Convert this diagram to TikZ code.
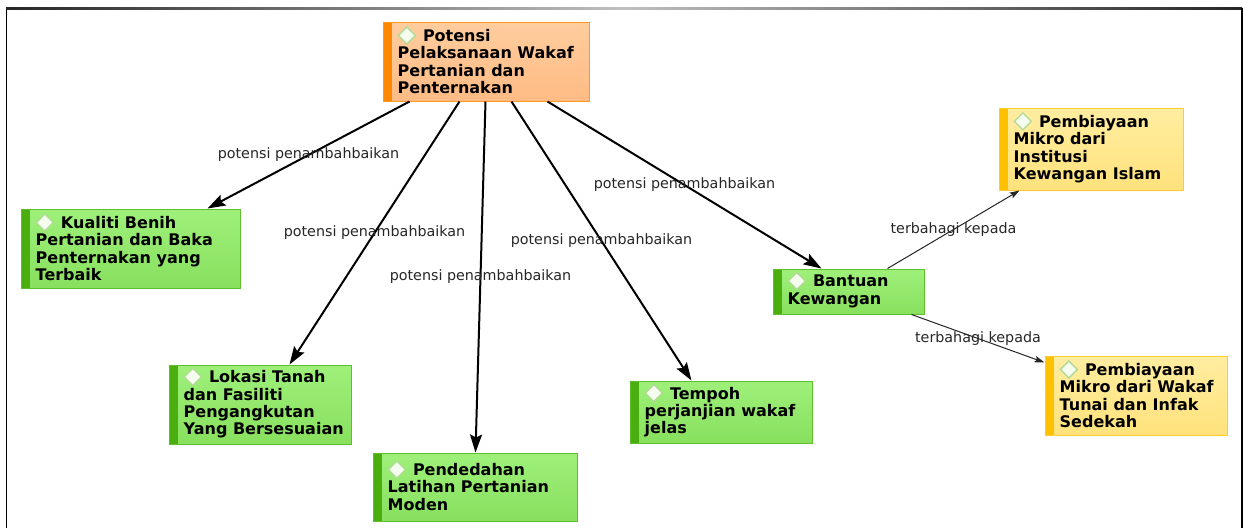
\documentclass[tikz,border=0pt]{standalone}
\usepackage{fontspec}
\setmainfont{DejaVu Sans}
\usetikzlibrary{arrows.meta,calc}
\definecolor{gtop}{HTML}{9EF07A}
\definecolor{gbot}{HTML}{88E05E}
\definecolor{gline}{HTML}{5EBE2C}
\definecolor{gbarc}{HTML}{4AAE0E}
\definecolor{otop}{HTML}{FFCD9E}
\definecolor{obot}{HTML}{FFBB84}
\definecolor{oline}{HTML}{FF9A1E}
\definecolor{obarc}{HTML}{FF8800}
\definecolor{ytop}{HTML}{FFEDA0}
\definecolor{ybot}{HTML}{FFE27C}
\definecolor{yline}{HTML}{FFCC2E}
\definecolor{ybarc}{HTML}{FFC000}
\definecolor{dmdfill}{HTML}{F4FDEE}
\definecolor{dmdline}{HTML}{B2DA94}
\newcommand{\dmd}{\smash{\tikz[baseline=0pt]\draw[fill=dmdfill,draw=dmdline,line width=1.3pt](0pt,6pt)--(8.5pt,14.5pt)--(17pt,6pt)--(8.5pt,-2.5pt)--cycle;}\hspace{7pt}}
\tikzset{
  box/.style={line width=1pt, inner sep=0pt},
  gbox/.style={box, draw=gline, top color=gtop, bottom color=gbot,
    path picture={\fill[gbarc] (path picture bounding box.south west) rectangle ([xshift=9pt]path picture bounding box.north west);}},
  obox/.style={box, draw=oline, top color=otop, bottom color=obot,
    path picture={\fill[obarc] (path picture bounding box.south west) rectangle ([xshift=9pt]path picture bounding box.north west);}},
  ybox/.style={box, draw=yline, top color=ytop, bottom color=ybot,
    path picture={\fill[ybarc] (path picture bounding box.south west) rectangle ([xshift=9pt]path picture bounding box.north west);}},
  txt/.style={anchor=west, inner sep=0pt, align=left, font=\fontsize{16}{17.3}\selectfont\bfseries},
  lbl/.style={font=\fontsize{14.3}{16}\selectfont, inner sep=1pt, midway, text=black!85},
  big/.style={line width=2pt, black, -{Stealth[length=18pt,width=12pt,inset=3pt]}},
  small/.style={line width=1pt, black!85, -{Stealth[length=10pt,width=6.5pt,inset=2pt]}}
}
\begin{document}
\begin{tikzpicture}[x=1pt,y=-1pt]
\useasboundingbox (0,0) rectangle (1243,528);
\fill[white] (0,0) rectangle (1243,528);
% frame
\draw[line width=1.5pt, black] (6.5,528) -- (6.5,8.5);
\shade[left color=black!85, right color=black!85, middle color=black!25] (6,7.8) rectangle (1242,9.3);
\draw[line width=2.5pt, black] (1241.8,8) -- (1241.8,528);

% boxes
\node[obox, minimum width=206pt, minimum height=79pt] (pot) at (486,61.5) {};
\node[gbox, minimum width=219pt, minimum height=79pt] (kua) at (130.5,248.5) {};
\node[gbox, minimum width=182pt, minimum height=79pt] (lok) at (260,404.5) {};
\node[gbox, minimum width=204pt, minimum height=68pt] (pen) at (475,487) {};
\node[gbox, minimum width=182pt, minimum height=62pt] (tem) at (721,412) {};
\node[gbox, minimum width=151pt, minimum height=45pt] (ban) at (848.5,291.5) {};
\node[ybox, minimum width=184pt, minimum height=82pt] (ins) at (1091,149) {};
\node[ybox, minimum width=182pt, minimum height=79pt] (wak) at (1136,395.5) {};

% texts
\node[txt] (potT) at ([xshift=15pt]pot.west) {\dmd Potensi\\Pelaksanaan Wakaf\\Pertanian dan\\Penternakan};
\node[txt] (kuaT) at ([xshift=15pt]kua.west) {\dmd Kualiti Benih\\Pertanian dan Baka\\Penternakan yang\\Terbaik};
\node[txt] (lokT) at ([xshift=15pt]lok.west) {\dmd Lokasi Tanah\\dan Fasiliti\\Pengangkutan\\Yang Bersesuaian};
\node[txt] (penT) at ([xshift=15pt]pen.west) {\dmd Pendedahan\\Latihan Pertanian\\Moden};
\node[txt] (temT) at ([xshift=15pt]tem.west) {\dmd Tempoh\\perjanjian wakaf\\jelas};
\node[txt] (banT) at ([xshift=15pt]ban.west) {\dmd Bantuan\\Kewangan};
\node[txt] (insT) at ([xshift=15pt]ins.west) {\dmd Pembiayaan\\Mikro dari\\Institusi\\Kewangan Islam};
\node[txt] (wakT) at ([xshift=15pt]wak.west) {\dmd Pembiayaan\\Mikro dari Wakaf\\Tunai dan Infak\\Sedekah};

% connectors
\draw[big] ([xshift=27pt]pot.south west) -- node[lbl]{potensi penambahbaikan} ([xshift=187pt]kua.north west);
\draw[big] ([xshift=77pt]pot.south west) -- node[lbl]{potensi penambahbaikan} ([xshift=121pt]lok.north west);
\draw[big] ([xshift=103pt]pot.south west) -- node[lbl]{potensi penambahbaikan} ([xshift=103pt]pen.north west);
\draw[big] ([xshift=129pt]pot.south west) -- node[lbl]{potensi penambahbaikan} ([xshift=62pt]tem.north west);
\draw[big] ([xshift=165pt]pot.south west) -- node[lbl]{potensi penambahbaikan} ([xshift=49pt]ban.north west);
\draw[small] ([xshift=115pt]ban.north west) -- node[lbl]{terbahagi kepada} ([xshift=21pt]ins.south west);
\draw[small] ([xshift=139pt]ban.south west) -- node[lbl]{terbahagi kepada} ([yshift=-7pt]wak.north west);
\end{tikzpicture}
\end{document}
